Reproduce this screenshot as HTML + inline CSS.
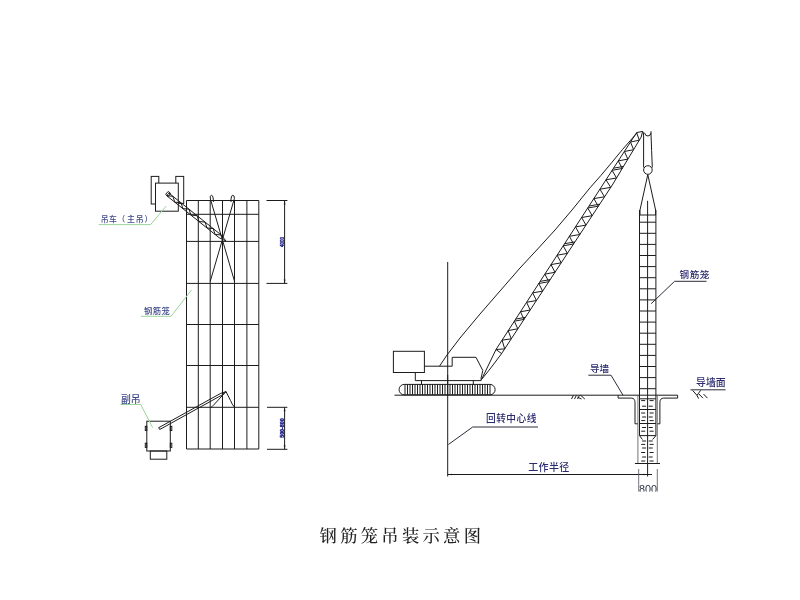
<!DOCTYPE html>
<html lang="zh"><head><meta charset="utf-8"><title>钢筋笼吊装示意图</title>
<style>
html,body{margin:0;padding:0;background:#fff;}
body{width:800px;height:600px;overflow:hidden;}
svg{display:block;filter:blur(0.3px);}
svg line,svg path,svg rect,svg circle{fill:none;stroke:#1c1c1c;stroke-width:1;}
svg .kf{fill:#1c1c1c;stroke:none;}
svg .g{stroke:#9bd49b;stroke-width:1.0;}
svg .d{stroke:#222230;stroke-width:0.95;}
svg .t{stroke:#50505c;stroke-width:0.8;}
svg text{font-family:"Liberation Sans","Noto Sans CJK SC",sans-serif;stroke:none;}
svg .lb{fill:#2b2b6e;font-weight:500;}
svg .l1{fill:#3f4a88;}
svg .dm{fill:#1c1c88;font-weight:bold;stroke:#1c1c88;stroke-width:0.4;}
svg .n8{fill:#2a2e45;}
svg .tt{font-family:"Liberation Serif","Noto Serif CJK SC",serif;fill:#222;font-weight:500;}
</style></head><body>
<svg width="800" height="600" viewBox="0 0 800 600">
<rect x="0" y="0" width="800" height="600" style="fill:#fff;stroke:none"/>
<line x1="186.5" y1="200.5" x2="186.5" y2="449.0"/>
<line x1="198.3" y1="200.5" x2="198.3" y2="449.0"/>
<line x1="210.2" y1="200.5" x2="210.2" y2="449.0"/>
<line x1="222.5" y1="200.5" x2="222.5" y2="449.0"/>
<line x1="234.5" y1="200.5" x2="234.5" y2="449.0"/>
<line x1="246.9" y1="200.5" x2="246.9" y2="449.0"/>
<line x1="258.8" y1="200.5" x2="258.8" y2="449.0"/>
<line x1="186.5" y1="200.5" x2="258.8" y2="200.5"/>
<line x1="186.5" y1="214.3" x2="258.8" y2="214.3"/>
<line x1="186.5" y1="241.4" x2="258.8" y2="241.4"/>
<line x1="186.5" y1="283.4" x2="258.8" y2="283.4"/>
<line x1="186.5" y1="324.5" x2="258.8" y2="324.5"/>
<line x1="186.5" y1="365.5" x2="258.8" y2="365.5"/>
<line x1="186.5" y1="407.3" x2="258.8" y2="407.3"/>
<line x1="186.5" y1="449.0" x2="258.8" y2="449.0"/>
<rect x="151.2" y="176.4" width="7.6" height="27.6"/>
<rect x="175.8" y="176.4" width="7.9" height="27.0"/>
<rect x="155.5" y="183.1" width="22.8" height="28.1" style="fill:#fff"/>
<path d="M166.7 195.7L219.1 237.7L226.0 241.0L221.2 235.0L168.9 193.1Z"/>
<path d="M166.7 195.7L172.9 196.3L174.8 202.2L181.0 202.8L182.9 208.6L189.0 209.2L190.9 215.1L197.1 215.7L199.0 221.5L205.1 222.1L207.0 228.0L213.2 228.6L215.1 234.4L221.2 235.0" stroke-width="0.8"/>
<path d="M165.6 194.4L168.2 191.4L170.6 193.4L168.2 196.6Z" stroke-width="0.7"/>
<path d="M210.4 199 Q209.6 195.3 211.4 195.3 Q213.4 195.3 213.4 202"/>
<path d="M234.4 198.5 Q234.6 195.3 232.8 195.3 Q230.8 195.3 231 202"/>
<line x1="210.4" y1="199.0" x2="234.6" y2="281.5"/>
<line x1="234.4" y1="198.5" x2="210.2" y2="281.5"/>
<line x1="266.5" y1="200.5" x2="287.4" y2="200.5"/>
<line x1="266.5" y1="283.4" x2="287.4" y2="283.4"/>
<line x1="284.6" y1="200.5" x2="284.6" y2="283.4"/>
<path d="M283.70000000000005 204.5L284.6 200.5L285.5 204.5Z M283.70000000000005 279.4L284.6 283.4L285.5 279.4Z" class="kf"/>
<line x1="267.0" y1="407.3" x2="287.4" y2="407.3"/>
<line x1="267.0" y1="449.3" x2="287.4" y2="449.3"/>
<line x1="284.6" y1="407.3" x2="284.6" y2="449.3"/>
<path d="M283.70000000000005 411.3L284.6 407.3L285.5 411.3Z M283.70000000000005 445.3L284.6 449.3L285.5 445.3Z" class="kf"/>
<text transform="translate(284.3 247.1) rotate(-90)" font-size="5.2" class="dm" textLength="10" lengthAdjust="spacingAndGlyphs">4000</text>
<text transform="translate(284.3 437.8) rotate(-90)" font-size="5.3" class="dm" textLength="19.5" lengthAdjust="spacingAndGlyphs">500-800</text>
<rect x="146.8" y="421.2" width="23.5" height="29.8"/>
<rect x="150.3" y="451.0" width="16.5" height="8.2"/>
<rect x="145.3" y="426.3" width="1.5" height="4.2"/>
<rect x="170.3" y="426.3" width="1.5" height="4.2"/>
<rect x="145.3" y="443.2" width="1.5" height="4.2"/>
<rect x="170.3" y="443.2" width="1.5" height="4.2"/>
<path d="M159.7 429.5L221.8 395.1L226.0 391.6L220.8 393.3L158.7 427.7Z"/>
<path d="M226 391.6 L213.2 405.5 Q212.3 406.6 211 407.3 M226 391.6 L230.5 400.5 Q232 404.5 234.6 407.3"/>
<path d="M98.7 224.6L150.6 224.6L166.2 206" class="g"/>
<path d="M141 316.3L171 316.3L191.5 290" class="g"/>
<path d="M120.5 404.5L140.7 404.5L152.7 427.7" class="g"/>
<text y="221.6" font-size="7.9" class="lb l1" x="100.8 108.9 117.2 127.0 135.7 144.4">吊车（主吊）</text>
<text x="144.0" y="313.8" font-size="8.3" class="lb l1" letter-spacing="0.4">钢筋笼</text>
<text x="121.0" y="403.0" font-size="9.8" class="lb l1">副吊</text>
<line x1="394.5" y1="395.2" x2="618.2" y2="395.2"/>
<line x1="447.7" y1="262.0" x2="447.7" y2="476.5" stroke-width="0.9"/>
<line x1="447.7" y1="375.0" x2="447.7" y2="395.5" stroke-width="1.8"/>
<rect x="393.4" y="351.3" width="31.0" height="21.2"/>
<path d="M424.4 366.2H452.2V357.3H476L482.8 370.5L481.1 378V380.6H415.3V372.5"/>
<line x1="421.5" y1="380.6" x2="421.5" y2="385.0"/>
<line x1="473.3" y1="380.6" x2="473.3" y2="385.0"/>
<rect x="399.1" y="384.4" width="96.0" height="10.4" rx="5.1" ry="5.1" class="k"/>
<line x1="405.0" y1="384.3" x2="405.0" y2="394.7" stroke-width="1.1"/>
<line x1="407.5" y1="384.3" x2="407.5" y2="394.7" stroke-width="1.1"/>
<line x1="410.0" y1="384.3" x2="410.0" y2="394.7" stroke-width="1.1"/>
<line x1="412.5" y1="384.3" x2="412.5" y2="394.7" stroke-width="1.1"/>
<line x1="415.0" y1="384.3" x2="415.0" y2="394.7" stroke-width="1.1"/>
<line x1="417.5" y1="384.3" x2="417.5" y2="394.7" stroke-width="1.1"/>
<line x1="420.0" y1="384.3" x2="420.0" y2="394.7" stroke-width="1.1"/>
<line x1="422.5" y1="384.3" x2="422.5" y2="394.7" stroke-width="1.1"/>
<line x1="425.0" y1="384.3" x2="425.0" y2="394.7" stroke-width="1.1"/>
<line x1="427.5" y1="384.3" x2="427.5" y2="394.7" stroke-width="1.1"/>
<line x1="430.0" y1="384.3" x2="430.0" y2="394.7" stroke-width="1.1"/>
<line x1="432.5" y1="384.3" x2="432.5" y2="394.7" stroke-width="1.1"/>
<line x1="435.0" y1="384.3" x2="435.0" y2="394.7" stroke-width="1.1"/>
<line x1="437.5" y1="384.3" x2="437.5" y2="394.7" stroke-width="1.1"/>
<line x1="440.0" y1="384.3" x2="440.0" y2="394.7" stroke-width="1.1"/>
<line x1="442.5" y1="384.3" x2="442.5" y2="394.7" stroke-width="1.1"/>
<line x1="445.0" y1="384.3" x2="445.0" y2="394.7" stroke-width="1.1"/>
<line x1="447.5" y1="384.3" x2="447.5" y2="394.7" stroke-width="1.1"/>
<line x1="450.0" y1="384.3" x2="450.0" y2="394.7" stroke-width="1.1"/>
<line x1="452.5" y1="384.3" x2="452.5" y2="394.7" stroke-width="1.1"/>
<line x1="455.0" y1="384.3" x2="455.0" y2="394.7" stroke-width="1.1"/>
<line x1="457.5" y1="384.3" x2="457.5" y2="394.7" stroke-width="1.1"/>
<line x1="460.0" y1="384.3" x2="460.0" y2="394.7" stroke-width="1.1"/>
<line x1="462.5" y1="384.3" x2="462.5" y2="394.7" stroke-width="1.1"/>
<line x1="465.0" y1="384.3" x2="465.0" y2="394.7" stroke-width="1.1"/>
<line x1="467.5" y1="384.3" x2="467.5" y2="394.7" stroke-width="1.1"/>
<line x1="470.0" y1="384.3" x2="470.0" y2="394.7" stroke-width="1.1"/>
<line x1="472.5" y1="384.3" x2="472.5" y2="394.7" stroke-width="1.1"/>
<line x1="475.0" y1="384.3" x2="475.0" y2="394.7" stroke-width="1.1"/>
<line x1="477.5" y1="384.3" x2="477.5" y2="394.7" stroke-width="1.1"/>
<line x1="480.0" y1="384.3" x2="480.0" y2="394.7" stroke-width="1.1"/>
<line x1="482.5" y1="384.3" x2="482.5" y2="394.7" stroke-width="1.1"/>
<line x1="485.0" y1="384.3" x2="485.0" y2="394.7" stroke-width="1.1"/>
<line x1="487.5" y1="384.3" x2="487.5" y2="394.7" stroke-width="1.1"/>
<line x1="490.0" y1="384.3" x2="490.0" y2="394.7" stroke-width="1.1"/>
<path d="M439.5 366.2L447 355L460 338L480 314L500 291L520 268L539.5 247L555 230L572 210L590 187.8L600.8 175.6L611.7 162.6L622.5 149.5L630.1 140.8L637 133"/>
<path d="M496.0 349.5L481.5 379.5L490 369L501.3 354L504.6 349.0"/>
<line x1="496.0" y1="349.5" x2="636.6" y2="132.6"/>
<path d="M504.6 349.0L612.3 185.0L641.2 137.0"/>
<path d="M636.6 132.6L642.6 131.4L641.2 137.0"/>
<line x1="496.0" y1="349.5" x2="501.6" y2="353.6" stroke-width="0.8"/>
<line x1="515.7" y1="319.1" x2="525.4" y2="317.3" stroke-width="0.8"/>
<line x1="540.1" y1="281.4" x2="550.2" y2="279.6" stroke-width="0.8"/>
<line x1="564.6" y1="243.7" x2="574.9" y2="241.9" stroke-width="0.8"/>
<line x1="589.0" y1="206.0" x2="599.7" y2="204.2" stroke-width="0.8"/>
<line x1="613.5" y1="168.2" x2="623.5" y2="166.4" stroke-width="0.8"/>
<path d="M496.0 349.5L504.7 348.9L502.1 340.1L511.3 338.9L508.2 330.6L517.8 328.8L514.3 321.2L524.0 319.4L520.5 311.8L530.2 310.0L526.6 302.3L536.4 300.5L532.7 292.9L542.6 291.1L538.8 283.5L548.8 281.7L544.9 274.1L555.0 272.3L551.0 264.6L561.2 262.8L557.1 255.2L567.4 253.4L563.2 245.8L573.6 244.0L569.4 236.3L579.8 234.5L575.5 226.9L586.0 225.1L581.6 217.5L592.2 215.7L587.7 208.0L598.3 206.2L593.8 198.6L604.5 196.8L599.9 189.2L610.7 187.4L606.0 179.8L616.5 178.0L612.1 170.3L622.2 168.5L618.3 160.9L627.9 159.1L624.4 151.5L633.6 149.7L630.5 142.0L639.3 140.2L636.6 132.6" stroke-width="0.95"/>
<path d="M642.6 131.4 Q643.6 132 643.6 135 L643.6 167.5"/>
<path d="M651.0 131.2 L651.0 134 Q651.6 150 652.3 167.5"/>
<path d="M644.4 132.6 Q645.5 136.4 648 136 Q650.6 135.6 651 133"/>
<circle cx="647.9" cy="170" r="4.3" class="k"/>
<path d="M647.8 174.6L640 210V215 M647.8 174.6L655.6 210V215"/>
<line x1="639.5" y1="210.0" x2="639.5" y2="435.6"/>
<line x1="655.9" y1="210.0" x2="655.9" y2="435.6"/>
<line x1="647.6" y1="200.8" x2="647.6" y2="476.5"/>
<line x1="639.5" y1="215.0" x2="655.9" y2="215.0"/>
<line x1="639.5" y1="222.2" x2="655.9" y2="222.2"/>
<line x1="639.5" y1="233.3" x2="655.9" y2="233.3"/>
<line x1="639.5" y1="244.4" x2="655.9" y2="244.4"/>
<line x1="639.5" y1="255.5" x2="655.9" y2="255.5"/>
<line x1="639.5" y1="266.6" x2="655.9" y2="266.6"/>
<line x1="639.5" y1="277.7" x2="655.9" y2="277.7"/>
<line x1="639.5" y1="288.8" x2="655.9" y2="288.8"/>
<line x1="639.5" y1="299.9" x2="655.9" y2="299.9"/>
<line x1="639.5" y1="311.0" x2="655.9" y2="311.0"/>
<line x1="639.5" y1="322.1" x2="655.9" y2="322.1"/>
<line x1="639.5" y1="333.2" x2="655.9" y2="333.2"/>
<line x1="639.5" y1="344.3" x2="655.9" y2="344.3"/>
<line x1="639.5" y1="355.4" x2="655.9" y2="355.4"/>
<line x1="639.5" y1="366.5" x2="655.9" y2="366.5"/>
<line x1="639.5" y1="377.6" x2="655.9" y2="377.6"/>
<line x1="639.5" y1="388.7" x2="655.9" y2="388.7"/>
<line x1="639.5" y1="398.8" x2="655.9" y2="398.8"/>
<line x1="639.5" y1="409.5" x2="655.9" y2="409.5"/>
<line x1="639.5" y1="423.5" x2="655.9" y2="423.5"/>
<line x1="639.5" y1="435.6" x2="655.9" y2="435.6"/>
<path d="M639.5 435.6L642.4 439.5 M655.9 435.6L652.6 439.5"/>
<path d="M618.1 395.2V398.1H631.5Q635 398.3 635 402.5V423.8H637.9"/>
<path d="M677.6 395.2V398.1H663.5Q659.9 398.3 659.9 402.5V423.8H657.3"/>
<line x1="618.1" y1="395.2" x2="677.6" y2="395.2"/>
<line x1="637.9" y1="395.2" x2="637.9" y2="463.4" class="t"/>
<line x1="657.3" y1="395.2" x2="657.3" y2="463.4" class="t"/>
<line x1="634.9" y1="463.5" x2="660.0" y2="463.5"/>
<line x1="641.2" y1="400.6" x2="645.2" y2="400.6" stroke-width="0.85"/>
<line x1="649.6" y1="400.6" x2="653.6" y2="400.6" stroke-width="0.85"/>
<line x1="642.1" y1="406.2" x2="646.1" y2="406.2" stroke-width="0.85"/>
<line x1="648.7" y1="406.2" x2="652.7" y2="406.2" stroke-width="0.85"/>
<line x1="641.2" y1="413.0" x2="645.2" y2="413.0" stroke-width="0.85"/>
<line x1="649.6" y1="413.0" x2="653.6" y2="413.0" stroke-width="0.85"/>
<line x1="642.1" y1="417.0" x2="646.1" y2="417.0" stroke-width="0.85"/>
<line x1="648.7" y1="417.0" x2="652.7" y2="417.0" stroke-width="0.85"/>
<line x1="641.2" y1="420.6" x2="645.2" y2="420.6" stroke-width="0.85"/>
<line x1="649.6" y1="420.6" x2="653.6" y2="420.6" stroke-width="0.85"/>
<line x1="642.1" y1="427.5" x2="646.1" y2="427.5" stroke-width="0.85"/>
<line x1="648.7" y1="427.5" x2="652.7" y2="427.5" stroke-width="0.85"/>
<line x1="641.2" y1="431.2" x2="645.2" y2="431.2" stroke-width="0.85"/>
<line x1="649.6" y1="431.2" x2="653.6" y2="431.2" stroke-width="0.85"/>
<line x1="642.1" y1="441.0" x2="646.1" y2="441.0" stroke-width="0.85"/>
<line x1="648.7" y1="441.0" x2="652.7" y2="441.0" stroke-width="0.85"/>
<line x1="641.2" y1="444.4" x2="645.2" y2="444.4" stroke-width="0.85"/>
<line x1="649.6" y1="444.4" x2="653.6" y2="444.4" stroke-width="0.85"/>
<line x1="642.1" y1="448.0" x2="646.1" y2="448.0" stroke-width="0.85"/>
<line x1="648.7" y1="448.0" x2="652.7" y2="448.0" stroke-width="0.85"/>
<line x1="641.2" y1="452.5" x2="645.2" y2="452.5" stroke-width="0.85"/>
<line x1="649.6" y1="452.5" x2="653.6" y2="452.5" stroke-width="0.85"/>
<line x1="642.1" y1="457.0" x2="646.1" y2="457.0" stroke-width="0.85"/>
<line x1="648.7" y1="457.0" x2="652.7" y2="457.0" stroke-width="0.85"/>
<line x1="641.2" y1="461.0" x2="645.2" y2="461.0" stroke-width="0.85"/>
<line x1="649.6" y1="461.0" x2="653.6" y2="461.0" stroke-width="0.85"/>
<line x1="447.7" y1="474.5" x2="652.0" y2="474.5"/>
<path d="M447.7 474.5L452 473.7V475.3Z M647.7 474.5L643.4 473.7V475.3Z" class="kf"/>
<line x1="638.7" y1="469.0" x2="638.7" y2="491.6" class="t"/>
<line x1="657.3" y1="469.0" x2="657.3" y2="491.6" class="t"/>
<clipPath id="c8"><rect x="630" y="480" width="40" height="11.6"/></clipPath>
<text x="638.9" y="492.7" font-size="10.8" class="n8" clip-path="url(#c8)">800</text>
<path d="M573.5 395.2L571.5 399 M576.5 395.2L574.5 399 M579.5 395.2L577.5 399 M580.5 395.2L584.8 399 M577.5 397.2L581.5 399" stroke-width="0.7"/>
<path d="M674.6 281.3H706.5 M674.6 281.3L651.2 303.7" class="d"/>
<path d="M588.3 375.2H611L623 395.2" class="d"/>
<path d="M472.7 427H538 M472.7 427L448.4 444.5" class="d"/>
<path d="M690.5 389.8H725.6" class="d"/>
<path d="M692.6 390.4L697 395.4L700.6 390.4 M697 395.4L698.6 398.6 M699 394L703 398.2 M703.5 394L707.5 398.2" stroke-width="0.7"/>
<text x="679.6" y="277.9" font-size="9.6" class="lb" letter-spacing="0.5">钢筋笼</text>
<text x="590.0" y="372.0" font-size="9.6" class="lb">导墙</text>
<text x="696.0" y="386.3" font-size="9.9" class="lb">导墙面</text>
<text x="486.0" y="421.8" font-size="9.7" class="lb" letter-spacing="0.5">回转中心线</text>
<text x="528.3" y="471.0" font-size="10.0" class="lb" letter-spacing="0.3">工作半径</text>
<text x="319.6" y="542.2" font-size="17.3" class="tt" letter-spacing="3.3">钢筋笼吊装示意图</text>
</svg>
</body></html>
